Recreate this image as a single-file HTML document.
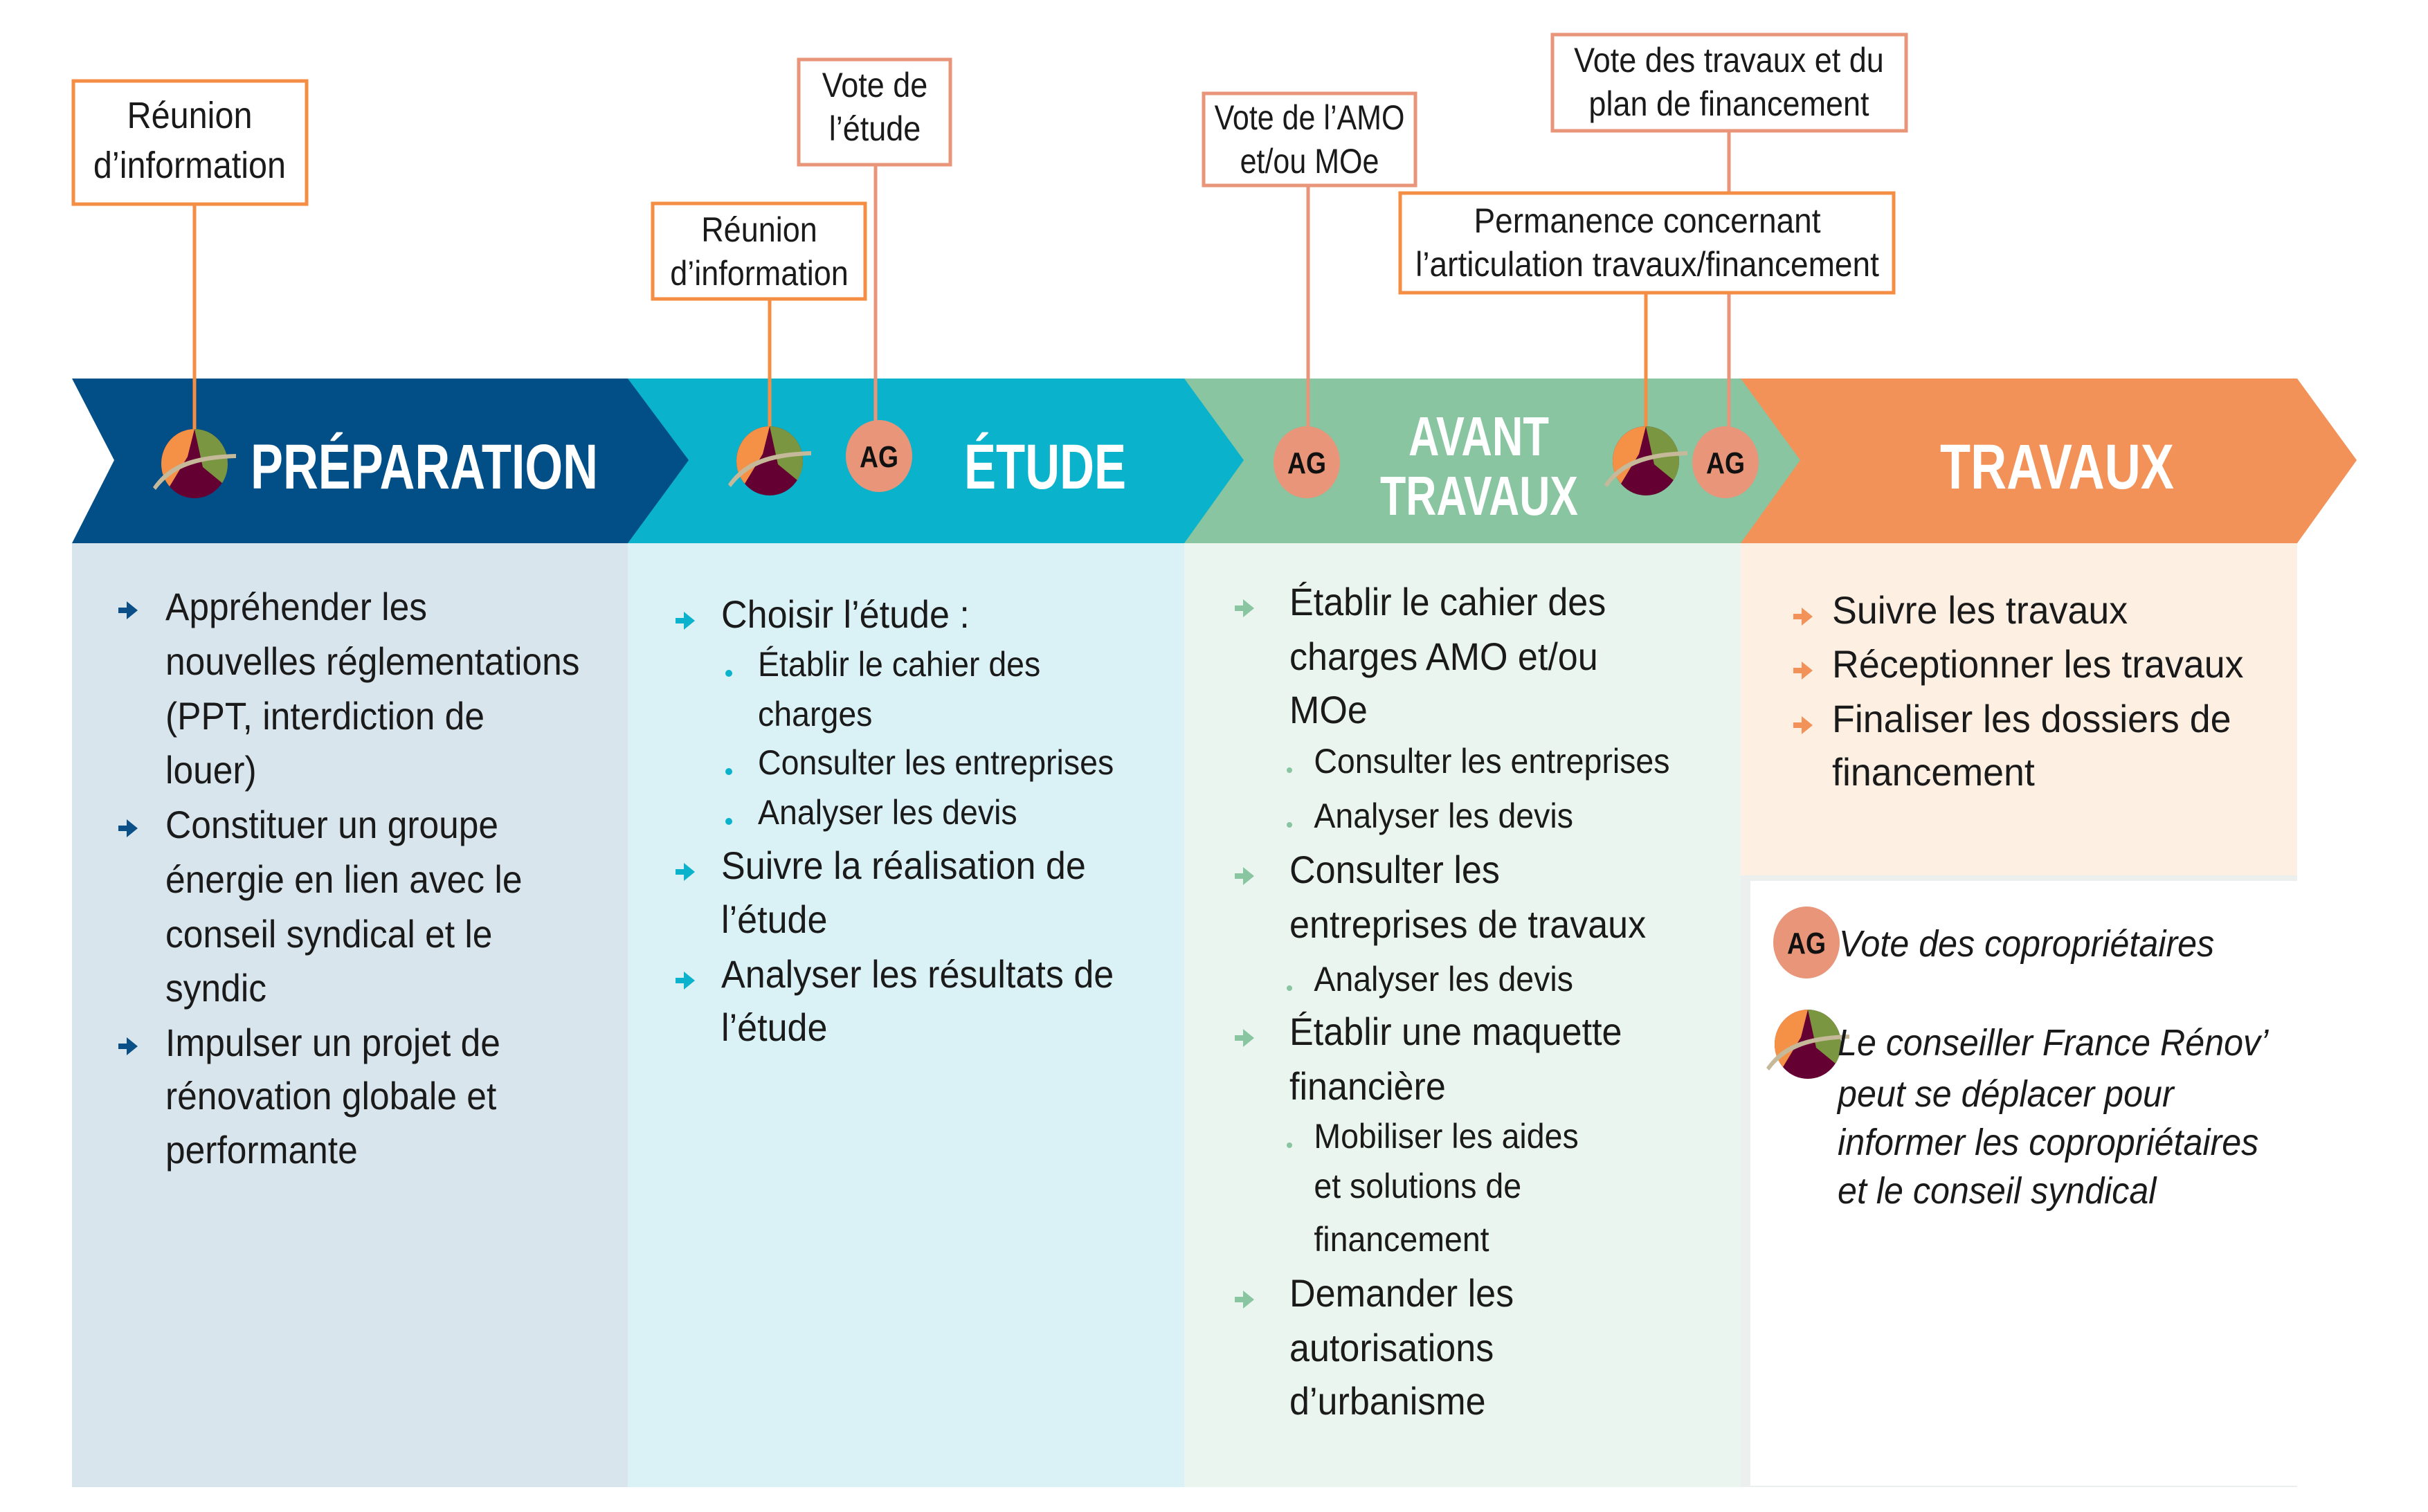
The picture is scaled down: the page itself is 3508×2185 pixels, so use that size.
<!DOCTYPE html>
<html><head><meta charset="utf-8">
<style>
html,body{margin:0;padding:0;background:#fff;}
svg{display:block;}
text{font-family:"Liberation Sans Narrow","Liberation Sans",sans-serif;fill:#1a1a1a;}
.m{font-size:56px;}
.s{font-size:50px;}
.c{font-size:50px;text-anchor:middle;}
.t{font-weight:bold;fill:#fff;font-size:92px;}
.ag{font-weight:bold;font-size:44px;text-anchor:middle;fill:#111;}
.it{font-style:italic;font-size:54px;}
</style></head>
<body>
<svg width="3508" height="2185" viewBox="0 0 3508 2185" xmlns="http://www.w3.org/2000/svg">
<defs>
<g id="emb">
<ellipse cx="0" cy="0" rx="48" ry="50" fill="#650032"/>
<path d="M0,-50 A48,50 0 0 0 -48,0 A48,50 0 0 0 -36,33 L-10,-10 Z" fill="#f59146"/>
<path d="M0,-50 A48,50 0 0 1 48,0 A48,50 0 0 1 40,28 L12,5 Z" fill="#7a9641"/>
<path d="M-60,34 C-40,5 -10,-12 60,-14 L60,-8 C-5,-6 -35,10 -56,38 Z" fill="#c5b99a"/>
</g>
<g id="ag"><ellipse cx="0" cy="0" rx="48" ry="52" fill="#e8957a"/><text x="0" y="16" class="ag" textLength="56" lengthAdjust="spacingAndGlyphs">AG</text></g>
<path id="arr" d="M-14,-4 h12 v-9 l16,13 l-16,13 v-9 h-12 Z"/>
</defs>

<rect x="104" y="785" width="803" height="1364" fill="#d8e5ec"/>
<rect x="907" y="785" width="804" height="1364" fill="#daf2f6"/>
<rect x="1711" y="785" width="804" height="1364" fill="#ebf5f0"/>
<rect x="2515" y="785" width="804" height="480" fill="#fdefe2"/>
<rect x="2515" y="1265" width="804" height="884" fill="#ebf0ee"/>
<rect x="2529" y="1273" width="799" height="874" fill="#fff"/>

<polygon points="2515,547 3319,547 3405,665 3319,785 2515,785" fill="#f29258"/>
<polygon points="1711,547 2515,547 2601,665 2515,785 1711,785" fill="#88c5a0"/>
<polygon points="907,547 1711,547 1797,665 1711,785 907,785" fill="#0ab2cb"/>
<polygon points="104,547 907,547 995,665 907,785 104,785 165,665" fill="#024f88"/>

<g stroke-width="5">
<line x1="281" y1="295" x2="281" y2="620" stroke="#f58e45"/>
<line x1="1112" y1="432" x2="1112" y2="620" stroke="#f58e45"/>
<line x1="1265" y1="238" x2="1265" y2="610" stroke="#e8957a"/>
<line x1="1890" y1="268" x2="1890" y2="618" stroke="#e8957a"/>
<line x1="2498" y1="189" x2="2498" y2="279" stroke="#e8957a"/>
<line x1="2498" y1="423" x2="2498" y2="618" stroke="#e8957a"/>
<line x1="2378" y1="423" x2="2378" y2="618" stroke="#f58e45"/>
</g>

<g fill="#fff" stroke-width="5">
<rect x="106" y="117" width="337" height="178" stroke="#f58e45"/>
<rect x="943" y="294" width="307" height="138" stroke="#f58e45"/>
<rect x="1154" y="86" width="219" height="152" stroke="#e8957a"/>
<rect x="1739" y="135" width="306" height="133" stroke="#e8957a"/>
<rect x="2243" y="50" width="511" height="139" stroke="#e8957a"/>
<rect x="2023" y="279" width="713" height="144" stroke="#f58e45"/>
</g>
<g transform="matrix(0.9,0,0,1,27.4,-1)"><text class="c" x="274" y="186" style="font-size:54px">Réunion</text>
<text class="c" x="274" y="258" style="font-size:54px">d’information</text></g>
<g transform="matrix(0.9,0,0,1,109.7,-1)"><text class="c" x="1097" y="350">Réunion</text>
<text class="c" x="1097" y="413">d’information</text></g>
<g transform="matrix(0.9,0,0,1,126.4,-1)"><text class="c" x="1264" y="141">Vote de</text>
<text class="c" x="1264" y="204">l’étude</text></g>
<g transform="matrix(0.86,0,0,1,264.9,-1)"><text class="c" x="1892" y="188">Vote de  l’AMO</text>
<text class="c" x="1892" y="251">et/ou MOe</text></g>
<g transform="matrix(0.9,0,0,1,249.8,-1)"><text class="c" x="2498" y="105">Vote des travaux et du</text>
<text class="c" x="2498" y="168">plan de financement</text></g>
<g transform="matrix(0.92,0,0,1,190.4,-1)"><text class="c" x="2380" y="337">Permanence concernant</text>
<text class="c" x="2380" y="400">l’articulation travaux/financement</text></g>

<use href="#emb" x="281" y="670"/>
<use href="#emb" x="1112" y="666"/>
<use href="#ag" x="1270" y="659"/>
<use href="#ag" x="1888" y="668"/>
<use href="#emb" x="2378" y="666"/>
<use href="#ag" x="2493" y="668"/>

<text class="t" x="362" y="706" textLength="502" lengthAdjust="spacingAndGlyphs">PRÉPARATION</text>
<text class="t" x="1393" y="706" textLength="234" lengthAdjust="spacingAndGlyphs">ÉTUDE</text>
<text class="t" x="2035" y="658" style="font-size:80px" textLength="203" lengthAdjust="spacingAndGlyphs">AVANT</text>
<text class="t" x="1994" y="744" style="font-size:80px" textLength="286" lengthAdjust="spacingAndGlyphs">TRAVAUX</text>
<text class="t" x="2803" y="706" textLength="338" lengthAdjust="spacingAndGlyphs">TRAVAUX</text>

<g fill="#0a4f88"><use href="#arr" x="185" y="882"/><use href="#arr" x="185" y="1197"/><use href="#arr" x="185" y="1512"/></g>
<g class="m" transform="matrix(0.92,0,0,1,17.3,-6)">
<text x="241" y="902">Appréhender les</text>
<text x="241" y="981">nouvelles réglementations</text>
<text x="241" y="1060">(PPT, interdiction de</text>
<text x="241" y="1138">louer)</text>
<text x="241" y="1217">Constituer un groupe</text>
<text x="241" y="1296">énergie en lien avec le</text>
<text x="241" y="1375">conseil syndical et le</text>
<text x="241" y="1453">syndic</text>
<text x="241" y="1532">Impulser un projet de</text>
<text x="241" y="1609">rénovation globale et</text>
<text x="241" y="1687">performante</text>
</g>

<g fill="#0ab2cb"><use href="#arr" x="990" y="897"/><use href="#arr" x="990" y="1260"/><use href="#arr" x="990" y="1417"/>
<circle cx="1053" cy="973" r="5"/><circle cx="1053" cy="1115" r="5"/><circle cx="1053" cy="1187" r="5"/></g>
<g transform="matrix(0.93,0,0,1,67.4,-6)">
<g class="m">
<text x="1048" y="913">Choisir l’étude :</text>
<text x="1048" y="1276">Suivre la réalisation de</text>
<text x="1048" y="1354">l’étude</text>
<text x="1048" y="1433">Analyser les résultats de</text>
<text x="1048" y="1510">l’étude</text>
</g>
<g class="s">
<text x="1105" y="983">Établir le cahier des</text>
<text x="1105" y="1055">charges</text>
<text x="1105" y="1125">Consulter les entreprises</text>
<text x="1105" y="1197">Analyser les devis</text>
</g></g>

<g fill="#88c5a0"><use href="#arr" x="1798" y="879"/><use href="#arr" x="1798" y="1266"/><use href="#arr" x="1798" y="1500"/><use href="#arr" x="1798" y="1878"/>
<circle cx="1863" cy="1113" r="4"/><circle cx="1863" cy="1192" r="4"/><circle cx="1863" cy="1428" r="4"/><circle cx="1863" cy="1655" r="4"/></g>
<g transform="matrix(0.93,0,0,1,120.2,-6)">
<g class="m">
<text x="1874" y="895">Établir le cahier des</text>
<text x="1874" y="974">charges AMO et/ou</text>
<text x="1874" y="1051">MOe</text>
<text x="1874" y="1282">Consulter les</text>
<text x="1874" y="1361">entreprises de travaux</text>
<text x="1874" y="1516">Établir une maquette</text>
<text x="1874" y="1595">financière</text>
<text x="1874" y="1894">Demander les</text>
<text x="1874" y="1973">autorisations</text>
<text x="1874" y="2050">d’urbanisme</text>
</g>
<g class="s">
<text x="1912" y="1123">Consulter les entreprises</text>
<text x="1912" y="1202">Analyser les devis</text>
<text x="1912" y="1438">Analyser les devis</text>
<text x="1912" y="1665">Mobiliser les aides</text>
<text x="1912" y="1737">et solutions de</text>
<text x="1912" y="1814">financement</text>
</g></g>

<g fill="#f29258"><use href="#arr" x="2605" y="891"/><use href="#arr" x="2605" y="969"/><use href="#arr" x="2605" y="1048"/></g>
<g class="m" transform="matrix(0.96,0,0,1,91.5,-6)">
<text x="2662" y="907">Suivre les travaux</text>
<text x="2662" y="985">Réceptionner les travaux</text>
<text x="2662" y="1064">Finaliser les dossiers de</text>
<text x="2662" y="1141">financement</text>
</g>

<use href="#ag" x="2610" y="1362"/>
<use href="#emb" x="2612" y="1509"/>
<g class="it" transform="matrix(0.93,0,0,1,173.8,-6)">
<text x="2670" y="1388">Vote des copropriétaires</text>
<text x="2668" y="1531">Le conseiller France Rénov’</text>
<text x="2668" y="1605">peut se déplacer pour</text>
<text x="2668" y="1675">informer les copropriétaires</text>
<text x="2668" y="1745">et le conseil syndical</text>
</g>
</svg>
</body></html>
